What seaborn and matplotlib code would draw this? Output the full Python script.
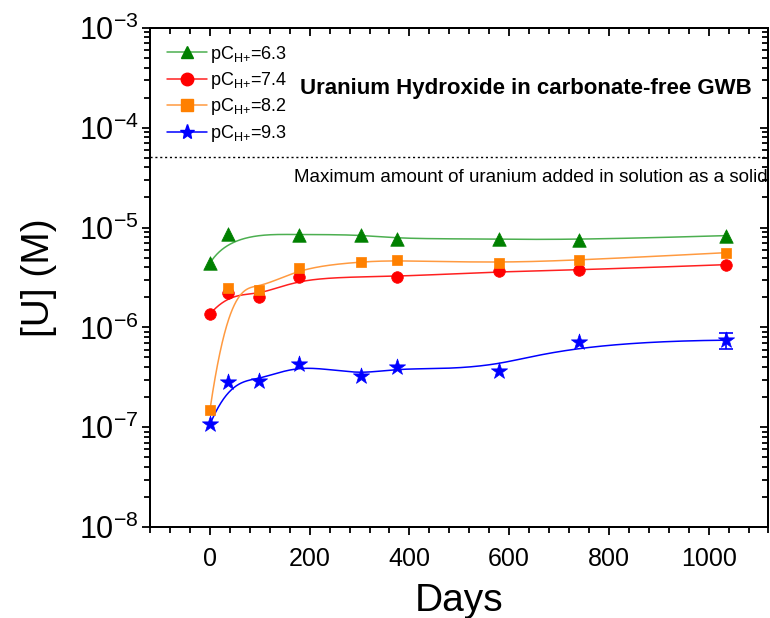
import numpy as np
import pandas as pd
import matplotlib
matplotlib.use("Agg")
import matplotlib.pyplot as plt
import seaborn as sns
from matplotlib.lines import Line2D
from matplotlib.ticker import MultipleLocator, LogLocator, NullFormatter

# ---------------- data ----------------
days_63 = [0, 36, 178, 302, 375, 579, 741, 1034]
u_63 = [4.4e-6, 8.6e-6, 8.5e-6, 8.5e-6, 7.7e-6, 7.7e-6, 7.5e-6, 8.3e-6]

days_74 = [0, 36, 98, 178, 375, 579, 741, 1034]
u_74 = [1.36e-6, 2.2e-6, 2.0e-6, 3.2e-6, 3.2e-6, 3.65e-6, 3.75e-6, 4.25e-6]

days_82 = [0, 36, 98, 178, 302, 375, 579, 741, 1034]
u_82 = [1.5e-7, 2.5e-6, 2.36e-6, 3.95e-6, 4.55e-6, 4.7e-6, 4.4e-6, 4.7e-6, 5.6e-6]

days_93 = [0, 36, 98, 178, 302, 375, 579, 741, 1034]
u_93 = [1.07e-7, 2.85e-7, 2.9e-7, 4.35e-7, 3.3e-7, 4.0e-7, 3.7e-7, 7.2e-7, 7.45e-7]
err_93 = [0, 0, 0, 0, 0, 0, 0, 0, 1.35e-7]

max_added = 5.1e-5

labels = ["pC$_{\\mathrm{H}{+}}$=6.3", "pC$_{\\mathrm{H}{+}}$=7.4",
          "pC$_{\\mathrm{H}{+}}$=8.2", "pC$_{\\mathrm{H}{+}}$=9.3"]
title_text = "Uranium Hydroxide in carbonate-free GWB"
note_text = "Maximum amount of uranium added in solution as a solid"

# ---------------- style ----------------
sns.set_theme(style="ticks")
FONT = ["Liberation Sans", "DejaVu Sans"]
plt.rcParams["font.family"] = FONT
plt.rcParams["mathtext.fontset"] = "custom"
plt.rcParams["mathtext.rm"] = "Liberation Sans"
plt.rcParams["mathtext.it"] = "Liberation Sans:italic"
plt.rcParams["mathtext.bf"] = "Liberation Sans:bold"
for k in ["text.color", "axes.labelcolor", "xtick.color", "ytick.color", "axes.edgecolor"]:
    plt.rcParams[k] = "black"


def bspline(px, py, num=800, k=3):
    """Clamped uniform B-spline using the data points as control points."""
    P = np.column_stack([px, py]).astype(float)
    n = len(P)
    inner = np.linspace(0, 1, n - k + 1)
    t = np.concatenate([np.zeros(k), inner, np.ones(k)])
    u = np.linspace(0, 1, num)
    u[-1] = 1 - 1e-12
    N = np.zeros((num, len(t) - 1))
    for i in range(len(t) - 1):
        N[:, i] = np.where((u >= t[i]) & (u < t[i + 1]), 1.0, 0.0)
    for d in range(1, k + 1):
        Nn = np.zeros((num, len(t) - 1 - d))
        for i in range(len(t) - 1 - d):
            a = t[i + d] - t[i]
            b = t[i + d + 1] - t[i + 1]
            term = 0
            if a > 0:
                term = term + (u - t[i]) / a * N[:, i]
            if b > 0:
                term = term + (t[i + d + 1] - u) / b * N[:, i + 1]
            Nn[:, i] = term
        N = Nn
    C = N @ P
    return C[:, 0], C[:, 1]


series = [
    (days_63, u_63, "#008000", "#4caf50", "^", 95),
    (days_74, u_74, "#ff0000", "#ff2020", "o", 70),
    (days_82, u_82, "#ff8000", "#ff9a40", "s", 60),
    (days_93, u_93, "#0000ff", "#0000ff", "*", 150),
]

fig = plt.figure(figsize=(7.7, 6.18), dpi=100)
ax = fig.add_axes([0.195, 0.147, 0.803, 0.808])

for (dx, uy, c, lc, mk, s), lab in zip(series, labels):
    xs, ly = bspline(dx, np.log10(uy))
    ax.plot(xs, 10 ** ly, color=lc, lw=1.1, zorder=2)
    df = pd.DataFrame({"days": dx, "U": uy})
    sns.scatterplot(data=df, x="days", y="U", ax=ax, marker=mk, s=s,
                    color=c, edgecolor=c, linewidth=0.5, zorder=3, legend=False)

# error bars (only non-zero)
e = np.array(err_93)
sel = e > 0
ax.errorbar(np.array(days_93)[sel], np.array(u_93)[sel], yerr=e[sel],
            fmt="none", ecolor="#0000ff", elinewidth=1.2, capsize=5, capthick=1.2, zorder=3)

ax.axhline(max_added, color="black", ls=(0, (1.5, 2)), lw=1.0, zorder=1)

ax.set_yscale("log")
ax.set_ylim(1e-8, 1e-3)
ax.set_xlim(-120, 1120)
ax.xaxis.set_major_locator(MultipleLocator(200))
ax.xaxis.set_minor_locator(MultipleLocator(40))
ax.yaxis.set_major_locator(LogLocator(base=10, numticks=10))
ax.yaxis.set_minor_locator(LogLocator(base=10, subs=np.arange(2, 10), numticks=20))
ax.yaxis.set_minor_formatter(NullFormatter())

for sp in ax.spines.values():
    sp.set_linewidth(1.4)
    sp.set_color("black")

ax.tick_params(axis="both", which="both", direction="out", color="black", width=1.3)
ax.tick_params(axis="both", which="major", length=6)
ax.tick_params(axis="both", which="minor", length=4)
ax.tick_params(axis="x", labelsize=18, pad=8)
ax.tick_params(axis="y", labelsize=22, pad=2)

# mirrored ticks (inward) on top and right
axt = ax.twiny()
axt.set_xlim(ax.get_xlim())
axt.xaxis.set_major_locator(MultipleLocator(200))
axt.xaxis.set_minor_locator(MultipleLocator(40))
axt.tick_params(axis="x", which="both", direction="in", labeltop=False, width=1.3, color="black")
axt.tick_params(axis="x", which="major", length=6)
axt.tick_params(axis="x", which="minor", length=4)
axr = ax.twinx()
axr.set_yscale("log")
axr.set_ylim(ax.get_ylim())
axr.yaxis.set_major_locator(LogLocator(base=10, numticks=10))
axr.yaxis.set_minor_locator(LogLocator(base=10, subs=np.arange(2, 10), numticks=20))
axr.tick_params(axis="y", which="both", direction="in", labelright=False, width=1.3, color="black")
axr.tick_params(axis="y", which="major", length=6)
axr.tick_params(axis="y", which="minor", length=4)
for a in (axt, axr):
    for sp in a.spines.values():
        sp.set_linewidth(1.4)
        sp.set_color("black")

ax.set_xlabel("Days", fontsize=28, labelpad=9)
ax.set_ylabel("[U] (M)", fontsize=28, labelpad=16)

ax.text(0.608, 0.879, title_text, transform=ax.transAxes, ha="center", va="center",
        fontsize=16, fontweight="bold", family=FONT)
ax.text(0.999, 0.70, note_text, transform=ax.transAxes, ha="right", va="center",
        fontsize=13.5, family=FONT)

handles = []
for (dx, uy, c, lc, mk, s), lab in zip(series, labels):
    handles.append(Line2D([], [], color=lc, lw=1.1, marker=mk, markersize=9 if mk != "*" else 11,
                          markerfacecolor=c, markeredgecolor=c, label=lab))
ax.legend(handles=handles, loc="upper left", frameon=False, fontsize=13,
          handlelength=2.2, handletextpad=0.2, labelspacing=0.3,
          borderaxespad=0.2, bbox_to_anchor=(0.01, 0.99))

fig.savefig("out.png", dpi=100)
